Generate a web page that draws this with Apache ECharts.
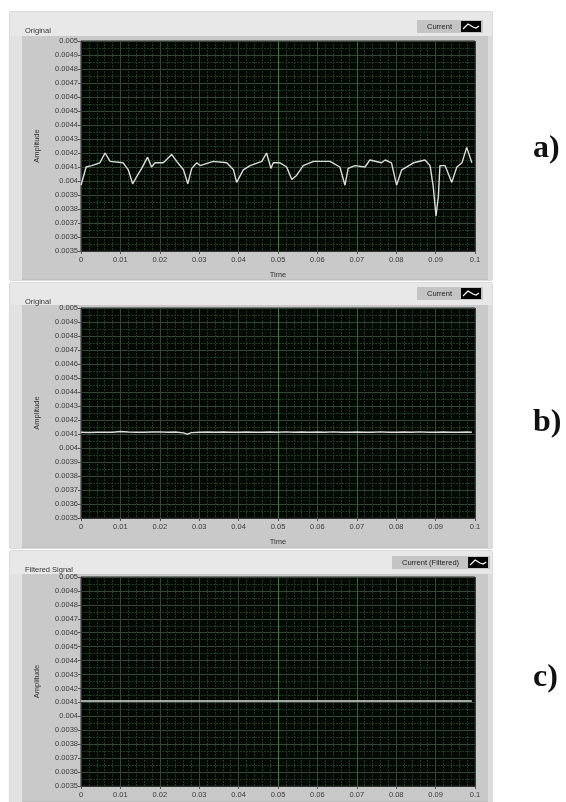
<!DOCTYPE html>
<html><head><meta charset="utf-8">
<script src="https://cdn.jsdelivr.net/npm/echarts@6/dist/echarts.min.js"></script>
<style>html,body{margin:0;padding:0;background:#fff}#c{width:566px;height:802px}</style>
</head><body><div id="c"></div>
<script>
// ---- data ----
const timeA = [0, 0.0013, 0.0027, 0.0048, 0.0061, 0.0074, 0.0107, 0.012, 0.0131, 0.0141, 0.0154, 0.0169, 0.0179, 0.0188, 0.0209, 0.023, 0.0243, 0.026, 0.0271, 0.0281, 0.0294, 0.0302, 0.0336, 0.037, 0.0387, 0.0395, 0.04, 0.0412, 0.0429, 0.0459, 0.0471, 0.0482, 0.0488, 0.0505, 0.0522, 0.0535, 0.0547, 0.0564, 0.059, 0.0632, 0.0657, 0.067, 0.0678, 0.0695, 0.0721, 0.0733, 0.0763, 0.0772, 0.0788, 0.0801, 0.0814, 0.0844, 0.0873, 0.0886, 0.0894, 0.0901, 0.0907, 0.0911, 0.0924, 0.0941, 0.0954, 0.0967, 0.0979, 0.0992];
const ampA = [0.00397, 0.0041, 0.00411, 0.00413, 0.0042, 0.00414, 0.00413, 0.00408, 0.00398, 0.00403, 0.00409, 0.00417, 0.0041, 0.00413, 0.00413, 0.00419, 0.00414, 0.00408, 0.00398, 0.00409, 0.00413, 0.00411, 0.00414, 0.00413, 0.00408, 0.00399, 0.004, 0.00408, 0.00411, 0.00414, 0.0042, 0.00409, 0.00413, 0.00413, 0.0041, 0.00401, 0.00404, 0.00411, 0.00414, 0.00414, 0.0041, 0.00397, 0.00409, 0.00411, 0.0041, 0.00415, 0.00413, 0.00415, 0.00413, 0.00397, 0.00408, 0.00413, 0.00415, 0.00411, 0.00396, 0.00375, 0.00389, 0.00411, 0.00411, 0.00399, 0.0041, 0.00413, 0.00424, 0.00413];
const timeB = [0, 0.002, 0.004, 0.006, 0.008, 0.01, 0.012, 0.014, 0.016, 0.018, 0.02, 0.022, 0.024, 0.026, 0.027, 0.028, 0.03, 0.032, 0.034, 0.036, 0.038, 0.04, 0.042, 0.044, 0.046, 0.048, 0.05, 0.052, 0.054, 0.056, 0.058, 0.06, 0.062, 0.064, 0.066, 0.068, 0.07, 0.072, 0.074, 0.076, 0.078, 0.08, 0.082, 0.084, 0.086, 0.088, 0.09, 0.092, 0.094, 0.096, 0.098, 0.0992];
const ampB = [0.004112, 0.004111, 0.004113, 0.004112, 0.004113, 0.004118, 0.004114, 0.004112, 0.004113, 0.004114, 0.004115, 0.004113, 0.004114, 0.004108, 0.004099, 0.00411, 0.004113, 0.004114, 0.004113, 0.004114, 0.004113, 0.004112, 0.004114, 0.004113, 0.004112, 0.004114, 0.004113, 0.004115, 0.004113, 0.004114, 0.004112, 0.004114, 0.004113, 0.004115, 0.004112, 0.004113, 0.004114, 0.004112, 0.004113, 0.004115, 0.004113, 0.004112, 0.004114, 0.004113, 0.004115, 0.004112, 0.004113, 0.004114, 0.004112, 0.004113, 0.004114, 0.004113];
const timeC = [0, 0.02, 0.04, 0.06, 0.08, 0.0992];
const ampC = [0.00411, 0.00411, 0.00411, 0.00411, 0.00411, 0.00411];
const panelTitles = ['Original', 'Original', 'Filtered Signal'];
const seriesNames = ['Current', 'Current', 'Current (Filtered)'];
const panelLetters = ['a)', 'b)', 'c)'];
const yAxisName = 'Amplitude';
const xAxisName = 'Time';

// ---- layout ----
const grids = [
  {left: 81, top: 41, width: 394, height: 210},
  {left: 81, top: 308, width: 394, height: 210},
  {left: 81, top: 577, width: 394, height: 209}
];
const panels = [
  {y: 12, h: 268, titleH: 24},
  {y: 283, h: 265, titleH: 22},
  {y: 551, h: 251, titleH: 23}
];
const legendTops = [20, 287, 556];
const legendLefts = [417, 417, 392];
const letterTops = [128, 402, 657];

const iconSvg = "<svg xmlns='http://www.w3.org/2000/svg' width='20' height='11'><rect width='20' height='11' fill='black'/><path d='M2 8 L7 3 L12 6 L15 7 L18 5' stroke='white' stroke-width='1.2' fill='none'/></svg>";
const icon = 'image://data:image/svg+xml;charset=utf-8,' + encodeURIComponent(iconSvg);

const font = 'Liberation Sans';
const chart = echarts.init(document.getElementById('c'), null, {renderer: 'canvas'});

const graphic = [];
panels.forEach(p => {
  graphic.push({type: 'rect', z: -10, shape: {x: 10, y: p.y, width: 482, height: p.h}, style: {fill: '#c9c9c9', stroke: '#b5b5b5', lineWidth: 1}});
  graphic.push({type: 'rect', z: -9, shape: {x: 10, y: p.y, width: 482, height: p.titleH}, style: {fill: '#e8e8e8'}});
  graphic.push({type: 'rect', z: -9, shape: {x: 10, y: p.y + p.titleH, width: 12, height: p.h - p.titleH}, style: {fill: '#e2e2e2'}});
  graphic.push({type: 'rect', z: -9, shape: {x: 488, y: p.y + p.titleH, width: 4, height: p.h - p.titleH}, style: {fill: '#dcdcdc'}});
});

const majorCol = '#34453a';
const xSplitColors = [majorCol, majorCol, majorCol, majorCol, majorCol, '#2f8a2f', majorCol, '#2c6a2c', majorCol, majorCol, majorCol];

const xAxes = [], yAxes = [], series = [], titles = [], legends = [];
const times = [timeA, timeB, timeC], amps = [ampA, ampB, ampC];
for (let i = 0; i < 3; i++) {
  xAxes.push({
    type: 'value', gridIndex: i, min: 0, max: 0.1, interval: 0.01,
    name: i < 2 ? xAxisName : '', nameLocation: 'middle', nameGap: 20,
    nameTextStyle: {fontSize: 7.5, color: '#333', fontFamily: font},
    axisLine: {show: true, lineStyle: {color: '#333'}},
    axisTick: {show: true, length: 3, lineStyle: {color: '#555'}},
    axisLabel: {fontSize: 7.5, color: '#3a3a3a', fontFamily: font, margin: 5},
    splitLine: {show: true, lineStyle: {color: xSplitColors, width: 1}},
    minorTick: {show: false, splitNumber: 5},
    minorSplitLine: {show: true, lineStyle: {color: '#1d3a22', width: 1, type: [2, 1]}}
  });
  yAxes.push({
    type: 'value', gridIndex: i, min: 0.0035, max: 0.005, interval: 0.0001,
    name: yAxisName, nameLocation: 'middle', nameGap: 40, nameRotate: 90,
    nameTextStyle: {fontSize: 7.5, color: '#333', fontFamily: font},
    axisLine: {show: true, lineStyle: {color: '#333'}},
    axisTick: {show: true, length: 3, lineStyle: {color: '#555'}},
    axisLabel: {fontSize: 7.5, color: '#3a3a3a', fontFamily: font, margin: 3},
    splitLine: {show: true, lineStyle: {color: majorCol, width: 1}},
    minorTick: {show: false, splitNumber: 2},
    minorSplitLine: {show: true, lineStyle: {color: '#1d3a22', width: 1, type: [2, 1]}}
  });
  series.push({
    type: 'line', name: seriesNames[i], xAxisIndex: i, yAxisIndex: i,
    data: times[i].map((t, k) => [t, amps[i][k]]),
    showSymbol: false, symbol: 'none', smooth: false,
    lineStyle: {color: '#dcdcdc', width: 1.4}, itemStyle: {color: '#dcdcdc'},
    animation: false, z: 5
  });
  titles.push({text: panelTitles[i], left: 20, top: panels[i].y + 10,
    textStyle: {fontSize: 7.5, fontWeight: 'normal', color: '#333', fontFamily: font}});
  titles.push({text: panelLetters[i], left: 528, top: letterTops[i],
    textStyle: {fontSize: 32, fontWeight: 'bold', color: '#111', fontFamily: 'Liberation Serif'}});
  legends.push({
    left: legendLefts[i], top: legendTops[i], align: 'right', orient: 'horizontal',
    itemWidth: 20, itemHeight: 11, itemGap: 4,
    padding: [1, 2, 1, 10], backgroundColor: '#c4c4c4',
    data: [{name: seriesNames[i], icon: icon}],
    textStyle: {fontSize: 7.5, color: '#222', fontFamily: font, padding: [0, 4, 0, 0]},
    selectedMode: false
  });
}

chart.setOption({
  backgroundColor: '#ffffff',
  animation: false,
  title: titles,
  legend: legends,
  graphic: graphic,
  grid: grids.map(g => Object.assign({show: true, backgroundColor: '#030803', borderColor: '#222', borderWidth: 1, containLabel: false}, g)),
  xAxis: xAxes,
  yAxis: yAxes,
  series: series
});
</script></body></html>
